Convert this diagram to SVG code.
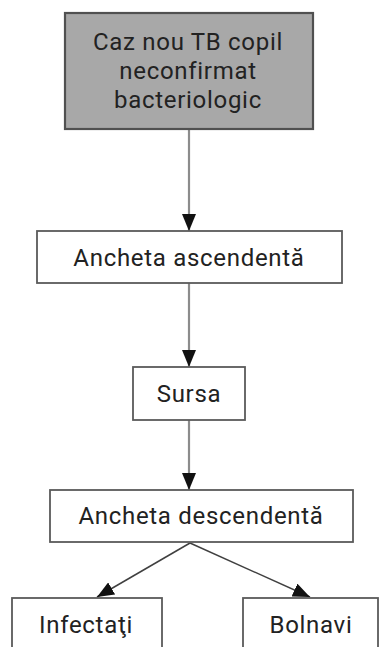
<svg xmlns="http://www.w3.org/2000/svg" width="379" height="647" viewBox="0 0 379 647">
  <style>
    .box { fill: #ffffff; stroke: #5a5a5a; stroke-width: 1.8; }
    .box.start { fill: #a8a8a8; stroke: #505050; stroke-width: 2.2; }
    .lbl { font-family: Roboto, "Open Sans", sans-serif; font-size: 24px; letter-spacing: 0.7px; fill: #222222; text-anchor: middle; }
    .edge { stroke: #8c8c8c; stroke-width: 2.2; fill: none; marker-end: url(#arrow); }
    .edge.thin { stroke: #404040; stroke-width: 1.5; }
  </style>
  <defs>
    <marker id="arrow" viewBox="0 0 17 14" refX="17" refY="7" markerUnits="userSpaceOnUse" markerWidth="17" markerHeight="14" orient="auto">
      <path d="M0,0 L17,7 L0,14 Z" fill="#111111"/>
    </marker>
  </defs>

  <rect width="379" height="647" fill="#ffffff"/>

  <g id="connectors">
    <line class="edge" x1="189" y1="130" x2="189" y2="231"/>
    <line class="edge" x1="189" y1="283" x2="189" y2="367"/>
    <line class="edge" x1="189" y1="420" x2="189" y2="490"/>
    <line class="edge thin" x1="190" y1="543" x2="97" y2="597"/>
    <line class="edge thin" x1="190" y1="543" x2="310" y2="597"/>
  </g>

  <g id="node-caz-nou">
    <rect class="box start" x="65" y="13" width="248" height="116"/>
    <text class="lbl" x="188" y="50">Caz nou TB copil</text>
    <text class="lbl" x="188" y="79">neconfirmat</text>
    <text class="lbl" x="188" y="108">bacteriologic</text>
  </g>

  <g id="node-ancheta-ascendenta">
    <rect class="box" x="37" y="231" width="305" height="52"/>
    <text class="lbl" x="189" y="266">Ancheta ascendentă</text>
  </g>

  <g id="node-sursa">
    <rect class="box" x="133" y="367" width="112" height="53"/>
    <text class="lbl" x="189" y="402">Sursa</text>
  </g>

  <g id="node-ancheta-descendenta">
    <rect class="box" x="50" y="490" width="303" height="52"/>
    <text class="lbl" x="201" y="524">Ancheta descendentă</text>
  </g>

  <g id="node-infectati">
    <rect class="box" x="12" y="598" width="150" height="60"/>
    <text class="lbl" x="86" y="633">Infectaţi</text>
  </g>

  <g id="node-bolnavi">
    <rect class="box" x="243" y="598" width="135" height="60"/>
    <text class="lbl" x="311" y="633">Bolnavi</text>
  </g>
</svg>
